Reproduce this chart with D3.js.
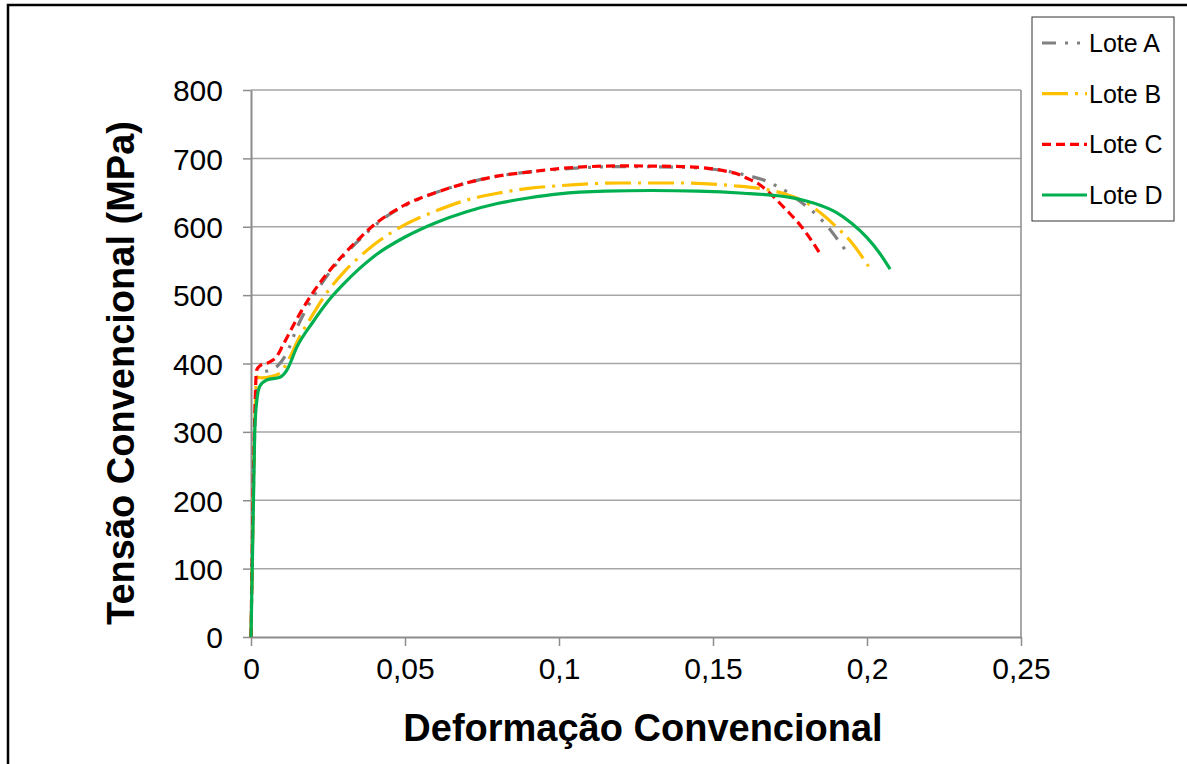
<!DOCTYPE html>
<html>
<head>
<meta charset="utf-8">
<script src="https://cdn.jsdelivr.net/npm/d3@7"></script>
<style>
  html, body { margin: 0; padding: 0; background: #fff; }
  svg { display: block; font-family: "Liberation Sans", Arial, sans-serif; }
</style>
</head>
<body>
<svg id="chart" width="1187" height="764"></svg>
<script>
// Tensile test curves: engineering stress (MPa) vs engineering strain
const seriesNames = ["Lote A", "Lote B", "Lote C", "Lote D"];

const loteA = [
  [0, 0], [0.0012, 300], [0.002, 375], [0.003, 386], [0.006, 390], [0.0085, 396],
  [0.0116, 415], [0.015, 453], [0.02, 496], [0.025, 530], [0.03, 557], [0.035, 580],
  [0.04, 601], [0.045, 618], [0.05, 631], [0.06, 650], [0.07, 664], [0.08, 674],
  [0.09, 680], [0.1, 684], [0.12, 688], [0.14, 687], [0.155, 681], [0.162, 674],
  [0.166, 669], [0.17, 661], [0.174, 651], [0.178, 638], [0.1837, 617], [0.188, 596],
  [0.1918, 573], [0.194, 560]
];
const loteB = [
  [0, 0], [0.0012, 300], [0.0018, 380], [0.0035, 379], [0.0065, 381], [0.0094, 386],
  [0.0127, 410], [0.015, 432], [0.02, 471], [0.025, 506], [0.03, 533], [0.035, 555],
  [0.04, 574], [0.05, 603], [0.06, 623], [0.07, 639], [0.08, 649], [0.09, 656],
  [0.1, 660], [0.12, 664], [0.14, 664], [0.1566, 660], [0.1653, 656], [0.17, 652],
  [0.176, 644], [0.18, 636], [0.185, 620], [0.19, 600], [0.195, 577], [0.2005, 542]
];
const loteC = [
  [0, 0], [0.0012, 320], [0.0018, 390], [0.003, 397], [0.006, 402], [0.0083, 410],
  [0.0104, 427], [0.015, 466], [0.02, 503], [0.025, 533], [0.03, 559], [0.035, 582],
  [0.04, 603], [0.045, 619], [0.05, 632], [0.06, 650], [0.07, 664], [0.08, 674],
  [0.09, 680], [0.1, 685], [0.12, 689], [0.14, 688], [0.1545, 681], [0.158, 677],
  [0.161, 671], [0.1653, 661], [0.168, 651], [0.1718, 634], [0.175, 619], [0.1782, 603],
  [0.1815, 583], [0.1847, 561]
];
const loteD = [
  [0, 0], [0.0012, 300], [0.002, 350], [0.0029, 367], [0.0051, 376], [0.0094, 380],
  [0.0116, 390], [0.015, 425], [0.02, 460], [0.025, 491], [0.03, 516], [0.035, 538],
  [0.04, 557], [0.05, 585], [0.06, 606], [0.07, 622], [0.08, 634], [0.09, 642],
  [0.1, 648], [0.115, 652], [0.13, 653], [0.145, 652], [0.16, 649], [0.1696, 646],
  [0.175, 643], [0.18, 638], [0.185, 631], [0.19, 621], [0.195, 605], [0.2, 584],
  [0.204, 562], [0.2075, 538]
];

const xTicks = [0, 0.05, 0.1, 0.15, 0.2, 0.25];
const xTickLabels = ["0", "0,05", "0,1", "0,15", "0,2", "0,25"];
const yTicks = [0, 100, 200, 300, 400, 500, 600, 700, 800];
const yTickLabels = ["0", "100", "200", "300", "400", "500", "600", "700", "800"];

const xTitle = "Deformação Convencional";
const yTitle = "Tensão Convencional (MPa)";

const seriesStyles = [
  { color: "#808080", dash: "14,9,3,9,3,9" },
  { color: "#FFC000", dash: "26,7,3,7" },
  { color: "#FF0000", dash: "9,5" },
  { color: "#00B050", dash: null }
];
const seriesData = [loteA, loteB, loteC, loteD];

const svg = d3.select("#chart");

// Outer chart frame
svg.append("rect")
  .attr("x", 8).attr("y", 5).attr("width", 1220).attr("height", 820)
  .attr("fill", "#fff").attr("stroke", "#000").attr("stroke-width", 2.5);

const plot = { left: 251, right: 1021, top: 90, bottom: 637 };

const x = d3.scaleLinear().domain([0, 0.25]).range([plot.left, plot.right]);
const y = d3.scaleLinear().domain([0, 800]).range([plot.bottom, plot.top]);

// Horizontal gridlines
svg.append("g")
  .selectAll("line")
  .data(yTicks.filter(d => d > 0))
  .join("line")
  .attr("x1", plot.left).attr("x2", plot.right)
  .attr("y1", d => y(d)).attr("y2", d => y(d))
  .attr("stroke", "#a6a6a6").attr("stroke-width", 1.5);

// Plot area border (right side)
svg.append("line")
  .attr("x1", plot.right).attr("x2", plot.right)
  .attr("y1", plot.top).attr("y2", plot.bottom)
  .attr("stroke", "#8c8c8c").attr("stroke-width", 1.5);

// Axes
const xAxis = d3.axisBottom(x)
  .tickValues(xTicks)
  .tickFormat((d, i) => xTickLabels[i])
  .tickSizeInner(9).tickSizeOuter(0).tickPadding(10);
const yAxis = d3.axisLeft(y)
  .tickValues(yTicks)
  .tickFormat((d, i) => yTickLabels[i])
  .tickSizeInner(8).tickSizeOuter(0).tickPadding(20);

const gx = svg.append("g")
  .attr("transform", `translate(0,${plot.bottom})`)
  .call(xAxis);
const gy = svg.append("g")
  .attr("transform", `translate(${plot.left},0)`)
  .call(yAxis);

[gx, gy].forEach(g => {
  g.select(".domain").attr("stroke", "#8c8c8c").attr("stroke-width", 2);
  g.selectAll(".tick line").attr("stroke", "#8c8c8c").attr("stroke-width", 1.5);
  g.selectAll(".tick text")
    .attr("fill", "#000")
    .style("font-family", "'Liberation Sans', Arial, sans-serif")
    .style("font-size", "30px");
});
gx.selectAll(".tick text").attr("dy", "0.78em");
gy.selectAll(".tick text").attr("dy", "0.36em");

// Axis titles
svg.append("text")
  .attr("x", 643).attr("y", 741)
  .attr("text-anchor", "middle")
  .style("font-size", "38px").style("font-weight", "bold")
  .text(xTitle);
svg.append("text")
  .attr("transform", "translate(134,373) rotate(-90)")
  .attr("text-anchor", "middle")
  .style("font-size", "38px").style("font-weight", "bold")
  .text(yTitle);

// Curves
const line = d3.line()
  .x(d => x(d[0]))
  .y(d => y(d[1]))
  .curve(d3.curveMonotoneX);

svg.append("g")
  .selectAll("path")
  .data(seriesData)
  .join("path")
  .attr("d", d => line(d))
  .attr("fill", "none")
  .attr("stroke", (d, i) => seriesStyles[i].color)
  .attr("stroke-width", 3.2)
  .attr("stroke-dasharray", (d, i) => seriesStyles[i].dash)
  .attr("stroke-linejoin", "round");

// Legend
const legend = svg.append("g");
legend.append("rect")
  .attr("x", 1032).attr("y", 17).attr("width", 142).attr("height", 204)
  .attr("fill", "#fff").attr("stroke", "#333").attr("stroke-width", 1);

const legendY = d3.scalePoint().domain(seriesNames).range([43, 195]);
const items = legend.selectAll("g.item")
  .data(seriesNames)
  .join("g")
  .attr("class", "item")
  .attr("transform", d => `translate(0,${legendY(d)})`);
items.append("line")
  .attr("x1", 1042).attr("x2", 1087).attr("y1", 0).attr("y2", 0)
  .attr("stroke", (d, i) => seriesStyles[i].color)
  .attr("stroke-width", 3.2)
  .attr("stroke-dasharray", (d, i) => seriesStyles[i].dash);
items.append("text")
  .attr("x", 1089).attr("y", 0).attr("dy", "0.36em")
  .style("font-size", "25px")
  .text(d => d);
</script>
</body>
</html>
